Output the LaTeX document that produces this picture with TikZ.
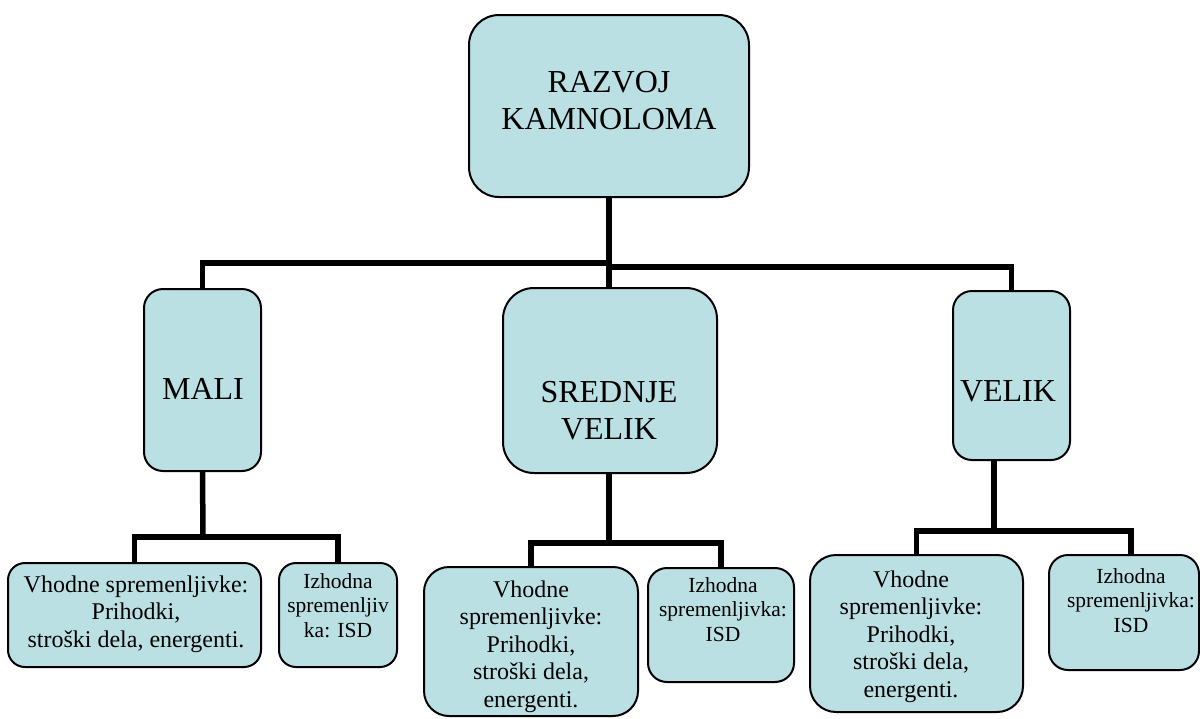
\documentclass[tikz,border=0pt]{standalone}
\usepackage{fontspec}
\setmainfont{Liberation Serif}
\begin{document}
\begin{tikzpicture}[x=1pt,y=-1pt,
  box/.style={draw=black, fill=boxfill, line width=2pt, inner sep=0pt},
  conn/.style={draw=black, line width=5.5pt},
  bigtext/.style={align=center, anchor=base, inner sep=0pt, font=\fontsize{32}{37}\selectfont},
  intext/.style={align=center, anchor=base, inner sep=0pt, font=\fontsize{24}{27.4}\selectfont},
  outtext/.style={align=center, anchor=base, inner sep=0pt, font=\fontsize{21.5}{24.5}\selectfont}]
\definecolor{boxfill}{RGB}{187,224,227}
\useasboundingbox (0,0) rectangle (1200,718);

% ---- junction points of the connectors
\coordinate (busL) at (609,263);
\coordinate (busR) at (609,267);
\coordinate (hubL) at (203,537);
\coordinate (hubM) at (609,543);
\coordinate (hubR) at (994,531);
\coordinate (hubRr) at (1131,531);

% ---- boxes (centre, size, corner radius)
\node[box, minimum width=280pt, minimum height=182pt, rounded corners=30pt] (top) at (609,106) {};
\node[box, minimum width=117pt, minimum height=182pt, rounded corners=19pt] (mali) at (202.5,380) {};
\node[box, minimum width=214pt, minimum height=185pt, rounded corners=31pt] (mid) at (610,380.5) {};
\node[box, minimum width=117pt, minimum height=169pt, rounded corners=19pt] (velik) at (1011.5,375.5) {};

\node[box, minimum width=253pt, minimum height=104pt, rounded corners=17pt] (vhL) at (134.5,615) {};
\node[box, minimum width=118pt, minimum height=104pt, rounded corners=17pt] (izL) at (338,615) {};
\node[box, minimum width=214pt, minimum height=149pt, rounded corners=25pt] (vhM) at (531,641.5) {};
\node[box, minimum width=146pt, minimum height=114pt, rounded corners=19pt] (izM) at (721,625) {};
\node[box, minimum width=213pt, minimum height=157pt, rounded corners=26pt] (vhR) at (916.5,633.5) {};
\node[box, minimum width=150pt, minimum height=115pt, rounded corners=19pt] (izR) at (1124,612.5) {};

% ---- labels (anchored on the baseline of their last line)
\node[bigtext] (topT) at (609,129) {RAZVOJ\\KAMNOLOMA};
\node[bigtext] (maliT) at (203,399) {MALI};
\node[bigtext] (midT) at (609,439) {SREDNJE\\VELIK};
\node[bigtext] (velikT) at (1008,401) {VELIK};

\node[intext] (vhLT) at (136,647) {Vhodne spremenljivke:\\Prihodki,\\stroški dela, energenti.};
\node[outtext] (izLT) at (338,637) {Izhodna\\spremenljiv\\ka: ISD};
\node[intext] (vhMT) at (531,707) {Vhodne\\spremenljivke:\\Prihodki,\\stroški dela,\\energenti.};
\node[outtext] (izMT) at (723,641) {Izhodna\\spremenljivka:\\ISD};
\node[intext] (vhRT) at (911,697) {Vhodne\\spremenljivke:\\Prihodki,\\stroški dela,\\energenti.};
\node[outtext] (izRT) at (1131,632) {Izhodna\\spremenljivka:\\ISD};

% ---- connectors
\draw[conn] (top.south) -- (top.south |- mid.north);
\draw[conn] (mali.north) |- (busL);
\draw[conn] (velik.north) |- (busR);

\draw[conn] (mali.south) -- (hubL);
\draw[conn] (vhL.north) |- (hubL) -| (izL.north);

\draw[conn] (mid.south -| hubM) -- (hubM);
\draw[conn] (vhM.north) |- (hubM) -| (izM.north);

\draw[conn] (velik.south -| hubR) -- (hubR);
\draw[conn] (vhR.north) |- (hubRr) -- (hubRr |- izR.north);
\end{tikzpicture}
\end{document}
